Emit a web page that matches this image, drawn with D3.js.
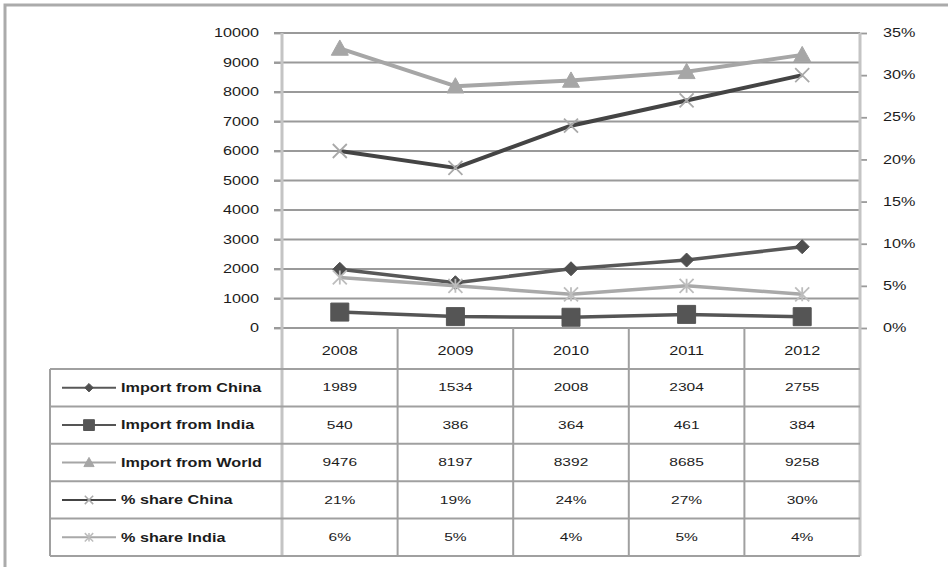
<!DOCTYPE html>
<html>
<head>
<meta charset="utf-8">
<script src="https://cdn.jsdelivr.net/npm/d3@7"></script>
<style>
  html, body { margin: 0; padding: 0; background: #fff; }
  svg { display: block; font-family: "Liberation Sans", Arial, sans-serif; }
</style>
</head>
<body>
<script>
// ---- data ----
const years = ["2008", "2009", "2010", "2011", "2012"];
const importChina = [1989, 1534, 2008, 2304, 2755];
const importIndia = [540, 386, 364, 461, 384];
const importWorld = [9476, 8197, 8392, 8685, 9258];
const shareChina = [0.21, 0.19, 0.24, 0.27, 0.30];
const shareIndia = [0.06, 0.05, 0.04, 0.05, 0.04];
const seriesNames = ["Import from China", "Import from India", "Import from World", "% share China", "% share India"];
const leftTicks = [0, 1000, 2000, 3000, 4000, 5000, 6000, 7000, 8000, 9000, 10000];
const rightTicks = [0, 0.05, 0.10, 0.15, 0.20, 0.25, 0.30, 0.35];

// ---- layout ----
const W = 948, H = 567;
const plot = { left: 282, right: 860, top: 33, bottom: 328 };
const table = { left: 50, headBottom: 369, bottom: 556 };
const SX = 1.35; // horizontal stretch applied to all text

const svg = d3.select("body").append("svg").attr("width", W).attr("height", H);

// outer frame (top and left edges visible)
svg.append("rect").attr("x", 5).attr("y", 5).attr("width", W + 20).attr("height", H + 20)
  .attr("fill", "none").attr("stroke", "#ababab").attr("stroke-width", 3);

const x = d3.scaleBand().domain(years).range([plot.left, plot.right]);
const cx = d => x(d) + x.bandwidth() / 2;
const y = d3.scaleLinear().domain([0, 10000]).range([plot.bottom, plot.top]);
const y2 = d3.scaleLinear().domain([0, 0.35]).range([plot.bottom, plot.top]);

function label(g, px, py, str, anchor, size, weight) {
  return g.append("text")
    .attr("transform", `translate(${px},${py}) scale(${SX},1)`)
    .attr("text-anchor", anchor)
    .attr("dominant-baseline", "central")
    .attr("font-size", size)
    .attr("font-weight", weight || "normal")
    .attr("fill", "#1c1c1c")
    .text(str);
}

// gridlines
svg.append("g").selectAll("line").data(leftTicks).join("line")
  .attr("x1", plot.left - 8).attr("x2", plot.right)
  .attr("y1", d => y(d)).attr("y2", d => y(d))
  .attr("stroke", "#9a9a9a").attr("stroke-width", 1.8);

// left axis
const gl = svg.append("g").attr("transform", `translate(${plot.left},0)`)
  .call(d3.axisLeft(y).tickValues(leftTicks).tickFormat(d3.format("d")).tickSize(8).tickPadding(14));
gl.select(".domain").remove();
gl.selectAll(".tick line").attr("stroke", "#9a9a9a").attr("stroke-width", 1.8);
gl.selectAll(".tick text").remove();
leftTicks.forEach(t => label(svg, plot.left - 23, y(t), d3.format("d")(t), "end", 12));

// right axis
const gr = svg.append("g").attr("transform", `translate(${plot.right},0)`)
  .call(d3.axisRight(y2).tickValues(rightTicks).tickSize(7));
gr.select(".domain").remove();
gr.selectAll(".tick line").attr("stroke", "#9a9a9a").attr("stroke-width", 1.8);
gr.selectAll(".tick text").remove();
rightTicks.forEach(t => label(svg, plot.right + 23, y2(t), d3.format(".0%")(t), "start", 12));

// axis spines (light, thick) running through the data table
[plot.left, plot.right].forEach(px => {
  svg.append("line").attr("x1", px).attr("x2", px).attr("y1", plot.top).attr("y2", table.bottom)
    .attr("stroke", "#c4c4c4").attr("stroke-width", 3);
});

// ---- markers ----
function markerPath(kind, s) {
  const h = s / 2;
  switch (kind) {
    case "diamond": return `M0,${-h}L${h},0L0,${h}L${-h},0Z`;
    case "square": return `M${-h},${-h}H${h}V${h}H${-h}Z`;
    case "triangle": return `M0,${-h}L${h},${h * 0.8}L${-h},${h * 0.8}Z`;
    case "x": return `M${-h},${-h}L${h},${h}M${h},${-h}L${-h},${h}`;
    case "star": return `M${-h},${-h}L${h},${h}M${h},${-h}L${-h},${h}M0,${-h}V${h}`;
  }
}

const series = [
  { name: seriesNames[0], values: importChina, scale: y, line: "#585858", width: 3.5, marker: "diamond", size: 14, mfill: "#4f4f4f", mstroke: "#4f4f4f", fmt: d3.format("d") },
  { name: seriesNames[1], values: importIndia, scale: y, line: "#555555", width: 3.5, marker: "square", size: 18, mfill: "#555555", mstroke: "#555555", fmt: d3.format("d") },
  { name: seriesNames[2], values: importWorld, scale: y, line: "#a6a6a6", width: 4, marker: "triangle", size: 17, mfill: "#a6a6a6", mstroke: "#a6a6a6", fmt: d3.format("d") },
  { name: seriesNames[3], values: shareChina, scale: y2, line: "#444444", width: 4, marker: "x", size: 14, mfill: "none", mstroke: "#a9a9a9", fmt: d3.format(".0%") },
  { name: seriesNames[4], values: shareIndia, scale: y2, line: "#a9a9a9", width: 3.5, marker: "star", size: 14, mfill: "none", mstroke: "#bdbdbd", fmt: d3.format(".0%") }
];

const plotG = svg.append("g");
series.forEach(s => {
  const pts = years.map((yr, i) => [cx(yr), s.scale(s.values[i])]);
  plotG.append("path").datum(pts)
    .attr("d", d3.line())
    .attr("fill", "none").attr("stroke", s.line).attr("stroke-width", s.width)
    .attr("stroke-linejoin", "round");
  plotG.append("g").selectAll("path").data(pts).join("path")
    .attr("transform", d => `translate(${d[0]},${d[1]})`)
    .attr("d", markerPath(s.marker, s.size))
    .attr("fill", s.mfill).attr("stroke", s.mstroke).attr("stroke-width", s.mfill === "none" ? 1.8 : 1);
});

// ---- data table ----
const tg = svg.append("g");
const rowH = (table.bottom - table.headBottom) / series.length;
const tableLine = (x1, y1, x2, y2) => tg.append("line").attr("x1", x1).attr("y1", y1).attr("x2", x2).attr("y2", y2)
  .attr("stroke", "#a0a0a0").attr("stroke-width", 2);

// column dividers between years (header and body)
years.slice(1).forEach(yr => tableLine(x(yr), plot.bottom, x(yr), table.bottom));
// row lines
for (let r = 0; r <= series.length; r++) {
  tableLine(table.left, table.headBottom + r * rowH, plot.right, table.headBottom + r * rowH);
}
tableLine(table.left, table.headBottom, table.left, table.bottom);

// year header
years.forEach(yr => label(tg, cx(yr), (plot.bottom + table.headBottom) / 2 + 2, yr, "middle", 12));

// rows: legend key + values
series.forEach((s, r) => {
  const ry = table.headBottom + rowH * (r + 0.5);
  tg.append("line").attr("x1", 62).attr("x2", 116).attr("y1", ry).attr("y2", ry)
    .attr("stroke", s.line).attr("stroke-width", 2);
  tg.append("path").attr("transform", `translate(89,${ry})`)
    .attr("d", markerPath(s.marker, s.size * 0.6))
    .attr("fill", s.mfill).attr("stroke", s.mstroke).attr("stroke-width", s.mfill === "none" ? 1.5 : 1);
  label(tg, 121, ry, s.name, "start", 12, "bold");
  years.forEach((yr, i) => label(tg, cx(yr), ry, s.fmt(s.values[i]), "middle", 11.5));
});
</script>
</body>
</html>
